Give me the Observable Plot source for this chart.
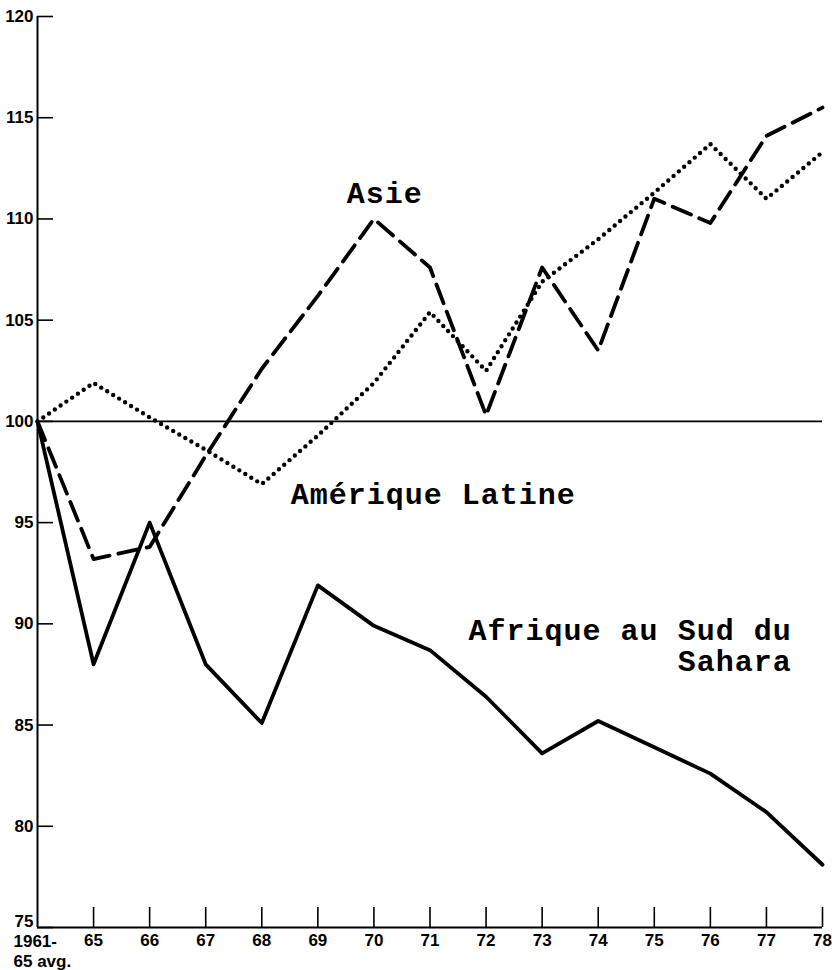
<!DOCTYPE html>
<html>
<head>
<meta charset="utf-8">
<script src="https://cdn.jsdelivr.net/npm/d3@7"></script>
<script src="https://cdn.jsdelivr.net/npm/@observablehq/plot@0.6"></script>
<style>
  html, body { margin: 0; padding: 0; background: #fff; }
  #chart svg { display: block; }
  #chart g[font-family*="Mono"] text { letter-spacing: 1px; }
</style>
</head>
<body>
<div id="chart"></div>
<script>
// Periods (x categories)
const periods = ["1961-\n65 avg.", "65", "66", "67", "68", "69", "70", "71", "72", "73", "74", "75", "76", "77", "78"];

// Series values (index, 1961-65 avg. = 100)
const afrique  = [100, 88.0, 95.0, 88.0, 85.1, 91.9, 89.9, 88.7, 86.4, 83.6, 85.2, 83.9, 82.6, 80.7, 78.1];
const asie     = [100, 93.2, 93.8, 98.3, 102.6, 106.2, 110.0, 107.6, 100.3, 107.6, 103.5, 111.0, 109.8, 114.1, 115.5];
const amerique = [100, 101.9, 100.2, 98.6, 96.9, 99.3, 101.9, 105.4, 102.5, 106.9, 109.0, 111.3, 113.7, 111.0, 113.3];

// Y tick values
const yTicks = [75, 80, 85, 90, 95, 100, 105, 110, 115, 120];

// Series labels and their anchor points (data units: period index, index value)
const labelText = ["Asie", "Amérique Latine", "Afrique au Sud du", "Sahara"];
const labelX = [6.87, 9.6, 13.45, 13.45];
const labelY = [110.77, 95.9, 89.18, 87.65];

const toRows = (vals) => vals.map((v, i) => ({i, v}));
const labels = labelText.map((t, k) => ({t, x: labelX[k], y: labelY[k]}));
const xTickIdx = d3.range(1, periods.length);
const yMin = yTicks[0];

// tick lengths expressed in data units of each scale
const yTickLen = 0.285;   // along x (period index)
const xTickLen = 0.99;    // along y (index value)

const axisFont = {fontSize: 17, fontWeight: "bold", fill: "#000"};

const chart = Plot.plot({
  width: 832,
  height: 970,
  marginLeft: 37,
  marginRight: 10,
  marginTop: 16,
  marginBottom: 43,
  style: {background: "#fff", color: "#000", fontFamily: "'Liberation Sans', Arial, sans-serif"},
  x: {type: "linear", domain: [0, periods.length - 1], axis: null},
  y: {domain: [75, 120], axis: null},
  marks: [
    Plot.ruleY([100], {stroke: "#000", strokeWidth: 1.6}),
    Plot.line(toRows(amerique), {x: "i", y: "v", stroke: "#000", strokeWidth: 4.4, strokeDasharray: "0 7", strokeLinecap: "round", strokeLinejoin: "round"}),
    Plot.line(toRows(asie), {x: "i", y: "v", stroke: "#000", strokeWidth: 3.8, strokeDasharray: "20 9", strokeLinejoin: "round"}),
    Plot.line(toRows(afrique), {x: "i", y: "v", stroke: "#000", strokeWidth: 3.8, strokeLinejoin: "round"}),
    // axes lines
    Plot.ruleX([0], {stroke: "#000", strokeWidth: 2}),
    Plot.ruleY([75], {stroke: "#000", strokeWidth: 2}),
    // inward ticks
    Plot.ruleY(yTicks, {y: (d) => d, x1: 0, x2: yTickLen, stroke: "#000", strokeWidth: 1.6}),
    Plot.ruleX(xTickIdx, {x: (d) => d, y1: 75, y2: 75 + xTickLen, stroke: "#000", strokeWidth: 1.6}),
    // tick labels
    Plot.text(yTicks.filter((d) => d > yMin), {x: 0, y: (d) => d, text: (d) => String(d), textAnchor: "end", dx: -4, ...axisFont}),
    Plot.text([yMin], {x: 0, y: (d) => d, text: (d) => String(d), textAnchor: "end", lineAnchor: "bottom", dx: -4, dy: -1, ...axisFont}),
    Plot.text(xTickIdx, {x: (d) => d, y: 75, text: (i) => periods[i], lineAnchor: "top", dy: 6, ...axisFont}),
    Plot.text([periods[0]], {x: 0, y: 75, text: (d) => d, textAnchor: "start", lineAnchor: "top", dx: -24, dy: 5, lineHeight: 1.2, ...axisFont}),
    // series labels
    Plot.text(labels, {x: "x", y: "y", text: "t", textAnchor: "end", lineAnchor: "bottom", fontFamily: "'Liberation Mono', 'DejaVu Sans Mono', monospace", fontSize: 30, fontWeight: "bold", fill: "#000"})
  ]
});
document.getElementById("chart").appendChild(chart);
</script>
</body>
</html>
